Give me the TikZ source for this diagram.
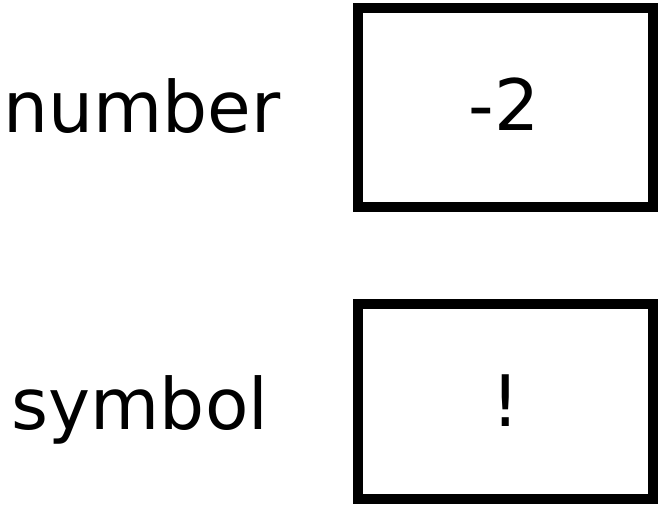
\documentclass[tikz,border=0pt]{standalone}
\usepackage{fontspec}
\setmainfont{DejaVu Sans}
\begin{document}
\begin{tikzpicture}[x=1pt,y=-1pt,
  boxstyle/.style={draw=black,line width=10pt,fill=none},
  lbl/.style={font=\fontsize{71}{80}\selectfont,anchor=base,inner sep=0pt}]
\useasboundingbox (0,0) rectangle (660,507);
\fill[white] (0,0) rectangle (660,507);
\draw[boxstyle] (358,8) rectangle (653,207);
\draw[boxstyle] (358,304) rectangle (653,499);
\node[lbl] (numlbl) at (142,132) {number};
\node[lbl] (numval) at (504,130) {-2};
\node[lbl] (symlbl) at (140,429) {symbol};
\node[lbl] (symval) at (506,426) {!};
\end{tikzpicture}
\end{document}
